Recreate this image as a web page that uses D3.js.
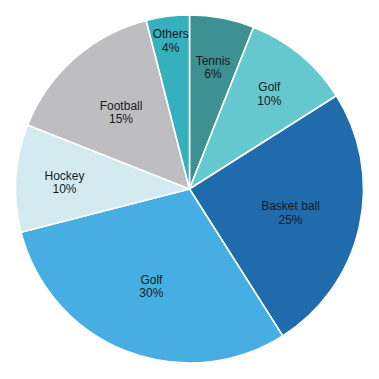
<!DOCTYPE html>
<html>
<head>
<meta charset="utf-8">
<script src="https://cdn.jsdelivr.net/npm/d3@7/dist/d3.min.js"></script>
<style>
html,body{margin:0;padding:0;background:#fff;}
svg{display:block;}
</style>
</head>
<body>
<svg id="chart" width="379" height="379"></svg>
<script>
const categories = ["Tennis", "Golf", "Basket ball", "Golf", "Hockey", "Football", "Others"];
const values = [6, 10, 25, 30, 10, 15, 4];
const colors = ["#3d9192", "#66c8cf", "#1f6bab", "#46aee3", "#d3ebf0", "#bebec0", "#35b0bc"];

const W = 379, H = 379;
const cx = 189.5, cy = 189, R = 174;
const svg = d3.select("#chart");
const g = svg.append("g").attr("transform", `translate(${cx},${cy})`);

const pie = d3.pie().sort(null).value(d => d.v);
const data = categories.map((c, i) => ({c, v: values[i], i}));
const arcs = pie(data);
const arc = d3.arc().innerRadius(0).outerRadius(R);

g.selectAll("path").data(arcs).enter().append("path")
  .attr("d", arc)
  .attr("fill", d => colors[d.data.i])
  .attr("stroke", "#fff")
  .attr("stroke-width", 1.6)
  .attr("stroke-linejoin", "round");

function labelR(v) {
  if (v >= 15) return 0.595 * R;
  if (v >= 5) return 0.72 * R;
  return 0.865 * R;
}

const total = d3.sum(values);
const lbl = g.selectAll("text").data(arcs).enter().append("text")
  .attr("transform", d => {
    const r = labelR(d.data.v);
    const a = (d.startAngle + d.endAngle) / 2;
    return `translate(${r * Math.sin(a)},${-r * Math.cos(a) + 1})`;
  })
  .attr("text-anchor", "middle")
  .attr("font-family", "Liberation Sans, Arial, sans-serif")
  .attr("font-size", 12)
  .attr("fill", "#1a1a1a");
lbl.append("tspan").attr("x", 0).attr("dy", "-0.2em").text(d => d.data.c);
lbl.append("tspan").attr("x", 0).attr("dy", "1.12em").text(d => Math.round(d.data.v / total * 100) + "%");
</script>
</body>
</html>
